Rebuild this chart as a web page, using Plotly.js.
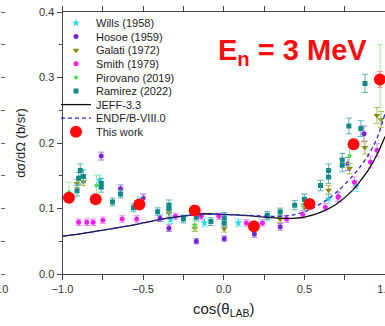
<!DOCTYPE html>
<html>
<head>
<meta charset="utf-8">
<script src="https://cdn.plot.ly/plotly-3.0.1.min.js"></script>
<style>html,body{margin:0;padding:0;background:#fff;}#chart{width:385px;height:326px;}</style>
</head>
<body>
<div id="chart"></div>
<script>
// ---- data ----
const seriesNames = ["Wills (1958)", "Hosoe (1959)", "Galati (1972)", "Smith (1979)", "Pirovano (2019)", "Ramirez (2022)", "JEFF-3.3", "ENDF/B-VIII.0", "This work"];

const willsX = [-0.77, -0.52, -0.33, -0.12, 0.09, 0.27, 0.50, 0.65, 0.82];
const willsY = [0.143, 0.108, 0.083, 0.078, 0.078, 0.087, 0.106, 0.115, 0.134];
const willsE = [0.008, 0.008, 0.006, 0.006, 0.006, 0.006, 0.007, 0.008, 0.008];

const hosoeX = [-0.76, -0.64, -0.50, -0.395, -0.34, -0.17, 0.003, 0.19, 0.35, 0.71, 0.77, 0.87];
const hosoeY = [0.180, 0.130, 0.116, 0.085, 0.070, 0.050, 0.054, 0.061, 0.072, 0.118, 0.168, 0.214];
const hosoeE = [0.006, 0.006, 0.006, 0.005, 0.005, 0.004, 0.004, 0.005, 0.005, 0.007, 0.010, 0.012];

const galatiX = [-0.91, -0.87, -0.52, -0.34, -0.18, 0.003, 0.35, 0.50, 0.65, 0.78, 0.875, 0.95, 0.975];
const galatiY = [0.138, 0.141, 0.108, 0.093, 0.070, 0.069, 0.084, 0.102, 0.128, 0.161, 0.193, 0.242, 0.236];
const galatiE = [0.006, 0.006, 0.006, 0.006, 0.005, 0.005, 0.005, 0.006, 0.007, 0.008, 0.010, 0.012, 0.012];

const smithX = [-0.90, -0.85, -0.81, -0.75, -0.63, -0.54, -0.30, -0.14, -0.03, 0.14, 0.24, 0.39, 0.49, 0.63, 0.71, 0.81, 0.91, 0.95];
const smithY = [0.079, 0.079, 0.079, 0.082, 0.084, 0.084, 0.088, 0.088, 0.088, 0.078, 0.078, 0.084, 0.091, 0.102, 0.117, 0.140, 0.171, 0.189];
const smithE = [0.005, 0.005, 0.005, 0.005, 0.005, 0.005, 0.005, 0.005, 0.005, 0.005, 0.005, 0.005, 0.006, 0.006, 0.007, 0.008, 0.009, 0.010];

const pirovanoX = [-0.96, -0.79, -0.52, -0.18, 0.50, 0.78, 0.97];
const pirovanoY = [0.125, 0.135, 0.110, 0.075, 0.112, 0.180, 0.290];
const pirovanoE = [0.015, 0.016, 0.008, 0.008, 0.010, 0.015, 0.060];

const ramirezX = [-0.91, -0.90, -0.89, -0.87, -0.76, -0.76, -0.69, -0.64, -0.56, -0.41, -0.34, -0.34, -0.25, -0.17, -0.08, 0.003, 0.003, 0.27, 0.35, 0.44, 0.50, 0.60, 0.65, 0.65, 0.735, 0.735, 0.776, 0.85, 0.876];
const ramirezY = [0.127, 0.146, 0.158, 0.149, 0.133, 0.138, 0.110, 0.122, 0.101, 0.095, 0.105, 0.100, 0.084, 0.087, 0.080, 0.078, 0.086, 0.0895, 0.0945, 0.105, 0.114, 0.135, 0.158, 0.148, 0.174, 0.166, 0.226, 0.222, 0.291];
const ramirezE = [0.008, 0.009, 0.010, 0.010, 0.008, 0.008, 0.006, 0.006, 0.006, 0.006, 0.008, 0.008, 0.006, 0.006, 0.006, 0.006, 0.008, 0.006, 0.006, 0.007, 0.008, 0.008, 0.010, 0.010, 0.010, 0.010, 0.012, 0.012, 0.014];

const modelX = [-1.0, -0.9, -0.8, -0.7, -0.6, -0.5, -0.4, -0.3, -0.2, -0.1, 0.0, 0.1, 0.2, 0.3, 0.4, 0.5, 0.6, 0.7, 0.8, 0.85, 0.9, 0.95, 1.0];
const jeffY = [0.058, 0.061, 0.065, 0.069, 0.073, 0.078, 0.083, 0.087, 0.090, 0.092, 0.091, 0.090, 0.088, 0.086, 0.085, 0.087, 0.094, 0.107, 0.128, 0.143, 0.160, 0.182, 0.210];
const endfY = [0.058, 0.061, 0.065, 0.069, 0.073, 0.078, 0.083, 0.087, 0.090, 0.091, 0.091, 0.090, 0.089, 0.088, 0.089, 0.095, 0.107, 0.125, 0.150, 0.165, 0.183, 0.207, 0.245];

const thisX = [-0.96, -0.794, -0.524, -0.18, 0.187, 0.532, 0.805, 0.968];
const thisY = [0.1165, 0.114, 0.106, 0.097, 0.073, 0.107, 0.198, 0.297];
const thisE = [0.005, 0.005, 0.005, 0.005, 0.005, 0.006, 0.008, 0.012];

const xTickVals = [-1.0, -0.5, 0.0, 0.5, 1.0];
const yTickVals = [0.0, 0.1, 0.2, 0.3, 0.4];

// ---- figure ----
const W = 385;
const FONT = "Liberation Sans, Arial, sans-serif";
function legendKey(i) { return i === 0 ? "legend" : "legend" + (i + 1); }

function expTrace(i, x, y, e, color, ecolor, symbol, size) {
  return {
    type: "scatter", mode: "markers", name: seriesNames[i], legend: legendKey(i),
    x: x, y: y,
    error_y: {type: "data", array: e, visible: true, color: ecolor, thickness: 1, width: 3},
    marker: {color: color, symbol: symbol, size: size, line: {width: 0}}
  };
}

const traces = [
  expTrace(0, willsX, willsY, willsE, "#22d8ee", "#7fe8f4", "star", 6),
  expTrace(1, hosoeX, hosoeY, hosoeE, "#7a22d6", "#a678e6", "circle", 5),
  expTrace(2, galatiX, galatiY, galatiE, "#8a8a10", "#b4b454", "triangle-down", 6),
  expTrace(3, smithX, smithY, smithE, "#f21ef2", "#f78af7", "circle", 5),
  expTrace(4, pirovanoX, pirovanoY, pirovanoE, "#3ee24a", "#9ceea2", "circle", 4),
  expTrace(5, ramirezX, ramirezY, ramirezE, "#138a8a", "#5ab4b4", "square", 5),
  {type: "scatter", mode: "lines", name: seriesNames[6], legend: legendKey(6), x: modelX, y: jeffY,
   line: {color: "#111111", width: 1.3, shape: "spline"}},
  {type: "scatter", mode: "lines", name: seriesNames[7], legend: legendKey(7), x: modelX, y: endfY,
   line: {color: "#2a2ad6", width: 1.3, dash: "4px,3px", shape: "spline"}},
  expTrace(8, thisX, thisY, thisE, "#ff0a0a", "#ff8a8a", "circle", 12)
];

const layout = {
  width: W, height: 326,
  margin: {l: 0, r: 0, t: 12, b: 52, pad: 0},
  paper_bgcolor: "#ffffff", plot_bgcolor: "#ffffff",
  font: {family: FONT, size: 11, color: "#333"},
  showlegend: true,
  xaxis: {
    domain: [62.5 / W, 1], range: [-1.0, 1.0], autorange: false,
    tickvals: xTickVals, tickformat: ".1f", ticklabeloverflow: "allow",
    ticks: "outside", ticklen: 5, tickwidth: 1, tickcolor: "#444",
    minor: {dtick: 0.25, tick0: 0, ticks: "outside", ticklen: 3, tickcolor: "#444"},
    showline: true, linecolor: "#444", linewidth: 1, mirror: "allticks",
    showgrid: false, zeroline: false,
    tickfont: {family: FONT, size: 11, color: "#333"},
    title: {text: "cos(θ<sub>LAB</sub>)", font: {family: FONT, size: 15, color: "#222"}, standoff: 9}
  },
  yaxis: {
    range: [0, 0.4], autorange: false,
    tickvals: yTickVals, tickformat: ".1f",
    ticks: "outside", ticklen: 5, tickwidth: 1, tickcolor: "#444",
    minor: {dtick: 0.05, tick0: 0, ticks: "outside", ticklen: 3, tickcolor: "#444"},
    showline: true, linecolor: "#444", linewidth: 1, mirror: false,
    showgrid: false, zeroline: false,
    tickfont: {family: FONT, size: 11, color: "#333"},
    title: {text: "dσ/dΩ (b/sr)", font: {family: FONT, size: 13, color: "#222"}, standoff: 10}
  },
  // remnant of the neighbouring panel on the left edge
  yaxis2: {
    overlaying: "y", anchor: "free", position: 0, side: "right",
    range: [0, 0.4], autorange: false, dtick: 0.05, tick0: 0,
    ticks: "outside", ticklen: 4, tickcolor: "#666",
    showticklabels: false, showline: false, showgrid: false, zeroline: false
  },
  annotations: [
    {xref: "paper", yref: "paper", x: 292 / W, y: (274 - 52) / 262, xanchor: "center", yanchor: "middle",
     text: "<b>E<sub>n</sub> = 3 MeV</b>", showarrow: false,
     font: {family: FONT, size: 29, color: "#f50f0f"}},
    {xref: "paper", yref: "paper", x: 0, y: 0, xanchor: "center", yanchor: "top", yshift: -7,
     text: "1.0", showarrow: false, font: {family: FONT, size: 11, color: "#333"}}
  ]
};

for (let i = 0; i < seriesNames.length; i++) {
  layout[legendKey(i)] = {
    x: 56 / W, xanchor: "left",
    y: (274 - (23 + 13.6 * i)) / 262, yanchor: "middle",
    bgcolor: "rgba(0,0,0,0)", borderwidth: 0,
    font: {family: FONT, size: 11, color: "#222"}
  };
}

// empty trace so the left-edge remnant axis is drawn
traces.push({type: "scatter", x: [], y: [], yaxis: "y2", showlegend: false, hoverinfo: "skip"});

Plotly.newPlot("chart", traces, layout, {staticPlot: true, displayModeBar: false});
</script>
</body>
</html>
